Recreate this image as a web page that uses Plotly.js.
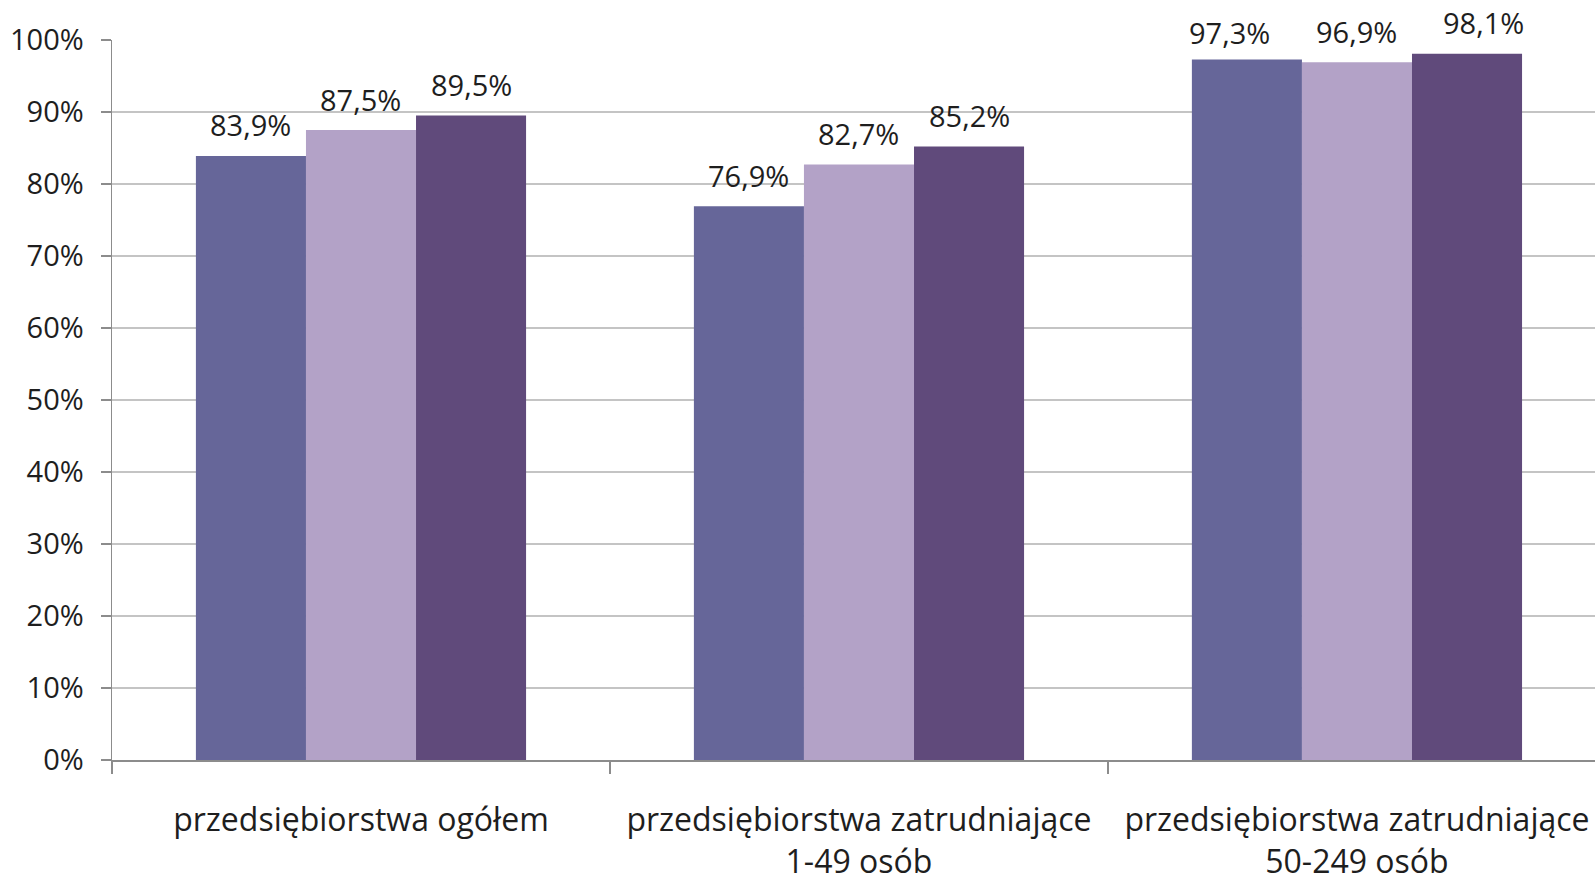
<!DOCTYPE html>
<html>
<head>
<meta charset="utf-8">
<script src="https://cdn.plot.ly/plotly-3.0.1.min.js"></script>
<style>html,body{margin:0;padding:0;background:#fff;overflow:hidden}</style>
</head>
<body>
<div id="chart" style="width:1595px;height:879px"></div>
<script>
const categories = [
  "przedsiębiorstwa ogółem",
  "przedsiębiorstwa zatrudniające<br>1-49 osób",
  "przedsiębiorstwa zatrudniające<br>50-249 osób"
];
const series1 = [83.9, 76.9, 97.3];
const series2 = [87.5, 82.7, 96.9];
const series3 = [89.5, 85.2, 98.1];
const yTickVals = [0, 10, 20, 30, 40, 50, 60, 70, 80, 90, 100];

// label nudges (pixels) to avoid overlaps, as in the original: [series][category]
const labelDx = [[0, 0, -17], [0, 0, 0], [0, 0, 16]];
const labelDy = [[31, 31, 27], [31, 31, 31], [31, 31, 31]];

const allSeries = [series1, series2, series3];
const colors = ["#666699", "#B3A2C7", "#604A7B"];
const bargap = 0.337;
const barW = (1 - bargap) / allSeries.length;
const fmt = v => v.toFixed(1).replace('.', ',') + '%';

const traces = allSeries.map((s, j) => ({
  type: 'bar',
  x: categories,
  y: s,
  marker: {color: colors[j], line: {width: 0}},
  hoverinfo: 'none',
  showlegend: false
}));

const annotations = [];
allSeries.forEach((s, j) => {
  s.forEach((v, i) => {
    annotations.push({
      xref: 'x', yref: 'y',
      x: i + (j - (allSeries.length - 1) / 2) * barW,
      y: v,
      text: fmt(v),
      showarrow: false,
      xanchor: 'center', yanchor: 'middle',
      xshift: labelDx[j][i],
      yshift: labelDy[j][i],
      font: {family: 'Open Sans, sans-serif', size: 29, color: '#1e1e1e'}
    });
  });
});

const layout = {
  width: 1595, height: 879,
  margin: {l: 112, r: 0, t: 40, b: 119, pad: 0},
  paper_bgcolor: '#ffffff', plot_bgcolor: '#ffffff',
  barmode: 'group', bargap: bargap, bargroupgap: 0,
  font: {family: 'Open Sans, sans-serif', size: 29, color: '#1e1e1e'},
  xaxis: {
    type: 'category',
    range: [-0.5, 2.478],
    showline: true, linecolor: '#8c8c8c', linewidth: 1.5,
    ticks: 'outside', tickson: 'boundaries', ticklen: 12, tickcolor: '#8c8c8c', tickwidth: 1.5,
    showgrid: false, zeroline: false,
    ticklabelstandoff: 31,
    tickfont: {family: 'Open Sans, sans-serif', size: 32, color: '#1e1e1e'},
    fixedrange: true
  },
  yaxis: {
    range: [0, 100],
    tickvals: yTickVals,
    ticktext: yTickVals.map(v => v + '%'),
    showline: true, linecolor: '#8c8c8c', linewidth: 1.5,
    ticks: 'outside', ticklen: 10, tickcolor: '#8c8c8c', tickwidth: 1.5,
    showgrid: true, gridcolor: '#c4c4c4', gridwidth: 1.5,
    zeroline: false,
    ticklabelstandoff: 11,
    tickfont: {family: 'Open Sans, sans-serif', size: 29, color: '#1e1e1e'},
    fixedrange: true
  },
  annotations: annotations
};

Plotly.newPlot('chart', traces, layout, {displayModeBar: false, staticPlot: true});
</script>
</body>
</html>
